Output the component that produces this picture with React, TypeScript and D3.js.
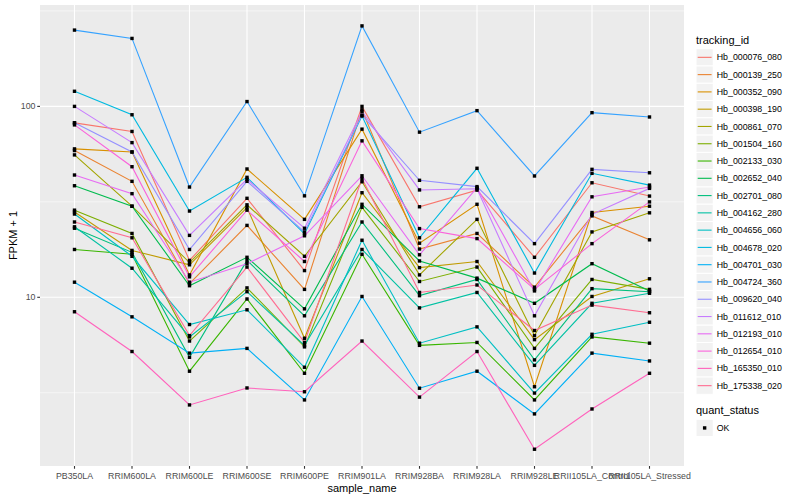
import * as d3 from "d3";

// sample columns, left to right
const SAMPLES = [
  "PB350LA",
  "RRIM600LA",
  "RRIM600LE",
  "RRIM600SE",
  "RRIM600PE",
  "RRIM901LA",
  "RRIM928BA",
  "RRIM928LA",
  "RRIM928LE",
  "RRII105LA_Control",
  "RRII105LA_Stressed",
];

const TRACKING_IDS = [
  "Hb_000076_080",
  "Hb_000139_250",
  "Hb_000352_090",
  "Hb_000398_190",
  "Hb_000861_070",
  "Hb_001504_160",
  "Hb_002133_030",
  "Hb_002652_040",
  "Hb_002701_080",
  "Hb_004162_280",
  "Hb_004656_060",
  "Hb_004678_020",
  "Hb_004701_030",
  "Hb_004724_360",
  "Hb_009620_040",
  "Hb_011612_010",
  "Hb_012193_010",
  "Hb_012654_010",
  "Hb_165350_010",
  "Hb_175338_020",
];

// FPKM + 1, one array per gene
const hb000076_080 = [82, 73.9, 15.6, 33, 13.8, 100, 29.8, 36.4, 16.2, 39.8, 33.9];
const hb000139_250 = [58.7, 40.5, 11.8, 23.8, 11.0, 96, 17.9, 21.6, 11.3, 26.7, 20.0];
const hb000352_090 = [59.9, 57.7, 13.1, 47, 25.6, 76, 19.2, 30.7, 3.4, 27.8, 30];
const hb000398_190 = [28, 17.6, 14.8, 29.5, 6.1, 35.3, 14.3, 15.4, 6.0, 10.1, 12.5];
const hb000861_070 = [55.7, 30, 15.2, 30.5, 16.4, 40.3, 13.1, 25.6, 6.3, 22, 27.7];
const hb001504_160 = [28.6, 21.6, 5.9, 11.2, 5.5, 29.6, 12.1, 14.4, 5.4, 12.4, 11];
const hb002133_030 = [17.8, 16.8, 4.1, 9.8, 4.0, 16.8, 5.6, 5.8, 2.9, 6.2, 5.75];
const hb002652_040 = [38.4, 30, 11.5, 16.2, 8.7, 30.7, 15.5, 12.6, 9.3, 15, 10.8];
const hb002701_080 = [23, 17.2, 4.85, 15.6, 8.0, 24.8, 10.2, 12.4, 4.7, 11.1, 10.7];
const hb004162_280 = [23.4, 14.2, 6.2, 10.7, 5.6, 17.8, 8.8, 10.6, 4.4, 9.3, 10.5];
const hb004656_060 = [27.3, 16.4, 7.2, 8.6, 4.3, 19.9, 5.75, 7.0, 3.15, 6.4, 7.4];
const hb004678_020 = [120, 90.4, 28.3, 42.5, 21.5, 89, 20.5, 47.4, 13.4, 44.6, 38.7];
const hb004701_030 = [12, 7.9, 5.1, 5.4, 2.9, 10.1, 3.34, 4.1, 2.45, 5.1, 4.64];
const hb004724_360 = [251, 227, 37.8, 106, 34, 264, 73.3, 95, 43.2, 92.7, 88];
const hb009620_040 = [82, 57.7, 17.8, 40.5, 22, 90, 41, 38, 19.1, 46.8, 44.9];
const hb011612_010 = [100, 64.6, 21.1, 41.5, 23, 94, 36.5, 37, 8.0, 27.2, 37.2];
const hb012193_010 = [43.7, 34.9, 12.0, 15.0, 21, 43.3, 16.7, 37.5, 10.8, 33.6, 37.8];
const hb012654_010 = [80, 48.3, 12.8, 28.6, 15.4, 66, 22.9, 20.3, 11.0, 19.1, 31.6];
const hb165350_010 = [8.4, 5.2, 2.73, 3.35, 3.2, 5.9, 3.0, 5.2, 1.6, 2.6, 4.0];
const hb175338_020 = [24.8, 20.5, 6.3, 14.4, 5.8, 41.9, 10.6, 11.6, 6.7, 9.1, 8.3];

const SERIES_VALUES = [
  hb000076_080, hb000139_250, hb000352_090, hb000398_190, hb000861_070,
  hb001504_160, hb002133_030, hb002652_040, hb002701_080, hb004162_280,
  hb004656_060, hb004678_020, hb004701_030, hb004724_360, hb009620_040,
  hb011612_010, hb012193_010, hb012654_010, hb165350_010, hb175338_020,
];

// ggplot default hue palette, 20 levels
const COLORS = [
  "#F8766D", "#EA8331", "#D89000", "#C09B00", "#A3A500",
  "#7CAE00", "#39B600", "#00BB4E", "#00BF7D", "#00C1A3",
  "#00BFC4", "#00BAE0", "#00B0F6", "#35A2FF", "#9590FF",
  "#C77CFF", "#E76BF3", "#FA62DB", "#FF62BC", "#FF6C91",
];

const Y_TICKS = [10, 100];
const Y_MINOR = [Math.sqrt(10), Math.sqrt(1000), Math.sqrt(100000)];
const Y_DOMAIN = [1.307, 339.7];
const QUANT_STATUS = ["OK"];

const WIDTH = 800;
const HEIGHT = 500;
const PANEL = { left: 40, right: 684, top: 5, bottom: 466 };
const FONT = "'Liberation Sans', Arial, Helvetica, sans-serif";
const KEY = 17.28;

export default function App() {
  const x = d3
    .scalePoint<string>()
    .domain(SAMPLES)
    .range([PANEL.left, PANEL.right])
    .padding(0.6);
  const y = d3
    .scaleLog()
    .domain(Y_DOMAIN)
    .range([PANEL.bottom, PANEL.top]);

  const line = d3
    .line<number>()
    .x((_, i) => x(SAMPLES[i]) as number)
    .y((d) => y(d));

  const legendTop = 48.7;
  const legendLeft = 696;
  const qsTop = legendTop + TRACKING_IDS.length * KEY + 11;
  const pt = 3.4;

  return (
    <svg
      width={WIDTH}
      height={HEIGHT}
      style={{ position: "absolute", left: 0, top: 0, background: "#fff" }}
      fontFamily={FONT}
    >
      <rect x={0} y={0} width={WIDTH} height={HEIGHT} fill="#fff" />
      <rect
        x={PANEL.left}
        y={PANEL.top}
        width={PANEL.right - PANEL.left}
        height={PANEL.bottom - PANEL.top}
        fill="#EBEBEB"
      />
      {Y_MINOR.map((v) => (
        <line
          key={"ym" + v}
          x1={PANEL.left}
          x2={PANEL.right}
          y1={y(v)}
          y2={y(v)}
          stroke="#fff"
          strokeWidth={0.55}
        />
      ))}
      {Y_TICKS.map((v) => (
        <line
          key={"yg" + v}
          x1={PANEL.left}
          x2={PANEL.right}
          y1={y(v)}
          y2={y(v)}
          stroke="#fff"
          strokeWidth={1.1}
        />
      ))}
      {SAMPLES.map((s) => (
        <line
          key={"xg" + s}
          x1={x(s)}
          x2={x(s)}
          y1={PANEL.top}
          y2={PANEL.bottom}
          stroke="#fff"
          strokeWidth={1.1}
        />
      ))}

      {SERIES_VALUES.map((vals, i) => (
        <path
          key={"l" + i}
          d={line(vals) ?? ""}
          fill="none"
          stroke={COLORS[i]}
          strokeWidth={1.1}
        />
      ))}
      {SERIES_VALUES.map((vals, i) =>
        vals.map((v, j) => (
          <rect
            key={`p${i}-${j}`}
            x={(x(SAMPLES[j]) as number) - pt / 2}
            y={y(v) - pt / 2}
            width={pt}
            height={pt}
            fill="#000"
          />
        ))
      )}

      {/* y axis */}
      {Y_TICKS.map((v) => (
        <g key={"yt" + v}>
          <line
            x1={PANEL.left - 2.75}
            x2={PANEL.left}
            y1={y(v)}
            y2={y(v)}
            stroke="#333"
            strokeWidth={1.1}
          />
          <text
            x={PANEL.left - 4.5}
            y={y(v)}
            dy="0.35em"
            textAnchor="end"
            fontSize={8.8}
            fill="#4D4D4D"
          >
            {v}
          </text>
        </g>
      ))}
      <text
        transform={`translate(17,${(PANEL.top + PANEL.bottom) / 2}) rotate(-90)`}
        textAnchor="middle"
        fontSize={11}
        fill="#000"
      >
        FPKM + 1
      </text>

      {/* x axis */}
      {SAMPLES.map((s) => (
        <g key={"xt" + s}>
          <line
            x1={x(s)}
            x2={x(s)}
            y1={PANEL.bottom}
            y2={PANEL.bottom + 2.75}
            stroke="#333"
            strokeWidth={1.1}
          />
          <text
            x={x(s)}
            y={PANEL.bottom + 12.5}
            textAnchor="middle"
            fontSize={8.8}
            fill="#4D4D4D"
          >
            {s}
          </text>
        </g>
      ))}
      <text
        x={(PANEL.left + PANEL.right) / 2}
        y={PANEL.bottom + 26}
        textAnchor="middle"
        fontSize={11}
        fill="#000"
      >
        sample_name
      </text>

      {/* tracking_id legend */}
      <text x={legendLeft} y={legendTop - 5} fontSize={11} fill="#000">
        tracking_id
      </text>
      {TRACKING_IDS.map((id, i) => {
        const top = legendTop + i * KEY;
        return (
          <g key={id}>
            <rect
              x={legendLeft}
              y={top}
              width={KEY}
              height={KEY}
              fill="#F2F2F2"
              stroke="#fff"
              strokeWidth={1}
            />
            <line
              x1={legendLeft + 1.7}
              x2={legendLeft + KEY - 1.7}
              y1={top + KEY / 2}
              y2={top + KEY / 2}
              stroke={COLORS[i]}
              strokeWidth={1.1}
            />
            <text
              x={legendLeft + KEY + 3.5}
              y={top + KEY / 2}
              dy="0.35em"
              fontSize={8.8}
              fill="#000"
            >
              {id}
            </text>
          </g>
        );
      })}

      {/* quant_status legend */}
      <text x={legendLeft} y={qsTop + 9} fontSize={11} fill="#000">
        quant_status
      </text>
      {QUANT_STATUS.map((q, i) => {
        const top = qsTop + 14 + i * KEY;
        return (
          <g key={q}>
            <rect
              x={legendLeft}
              y={top}
              width={KEY}
              height={KEY}
              fill="#F2F2F2"
              stroke="#fff"
              strokeWidth={1}
            />
            <rect
              x={legendLeft + KEY / 2 - pt / 2}
              y={top + KEY / 2 - pt / 2}
              width={pt}
              height={pt}
              fill="#000"
            />
            <text
              x={legendLeft + KEY + 3.5}
              y={top + KEY / 2}
              dy="0.35em"
              fontSize={8.8}
              fill="#000"
            >
              {q}
            </text>
          </g>
        );
      })}
    </svg>
  );
}
